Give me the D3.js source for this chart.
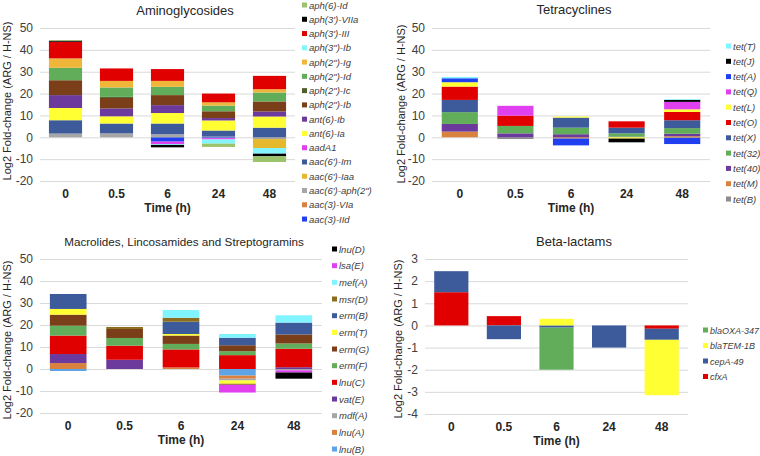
<!DOCTYPE html>
<html>
<head>
<meta charset="utf-8">
<script src="https://cdn.jsdelivr.net/npm/d3@7"></script>
<style>
  body { margin: 0; background: #fff; }
  svg { font-family: "Liberation Sans", Arial, sans-serif; }
  .grid line { stroke: #d9d9d9; }
  .axis text { fill: #404040; font-size: 12px; }
  .xaxis text { font-weight: bold; fill: #262626; }
  .title { fill: #262626; }
  .ytitle { font-size: 11px; fill: #262626; }
  .xtitle { font-size: 12px; font-weight: bold; fill: #262626; }
  .legend text { font-style: italic; fill: #404040; }
</style>
</head>
<body>
<div id="chart"></div>
<script>
const times = ["0", "0.5", "6", "24", "48"];
const ticksMain = [-20, -10, 0, 10, 20, 30, 40, 50];
const ticksBeta = [-4, -3, -2, -1, 0, 1, 2, 3];

// genes listed in legend order (top to bottom); values per time point
const aminoGenes = ["aph(6)-Id", "aph(3')-VIIa", "aph(3')-III", "aph(3\")-Ib", "aph(2\")-Ig",
  "aph(2\")-Id", "aph(2\")-Ic", "aph(2\")-Ib", "ant(6)-Ib", "ant(6)-Ia", "aadA1",
  "aac(6')-Im", "aac(6')-Iaa", "aac(6')-aph(2\")", "aac(3)-VIa", "aac(3)-IId"];
const aminoValues = [
  [0.3, 0, 0, -1.5, -2.6],
  [0.5, 0, -1.1, 0, -1.2],
  [7.6, 5.7, 5.4, 4.0, 6.1],
  [0, 0, -0.4, -1.9, -2.6],
  [4.3, 3.0, 2.7, 1.5, 1.5],
  [5.7, 4.3, 3.8, 2.6, 4.1],
  [0, 0.5, 0, 0, 0],
  [6.8, 4.8, 4.6, 3.1, 4.6],
  [5.9, 3.6, 3.6, 1.1, 2.3],
  [5.6, 3.3, 4.8, 4.6, 5.1],
  [0, 0, -1.1, -0.6, 0],
  [6.1, 4.5, 4.9, 2.8, 4.4],
  [0, 0, 0, 0, -4.1],
  [1.7, 1.8, 1.4, 0.3, -0.8],
  [0, 0, 0, 0, 0],
  [0, 0, -2.0, -0.4, 0]
];
const aminoColors = ["#9bc36b", "#000000", "#e00000", "#84f4ff", "#f0b63a", "#62ad5a", "#4e5f2c",
  "#7a3f18", "#6b3a9c", "#ffff33", "#e040f0", "#3d5b9b", "#e6b82e", "#a6a6a6", "#d9823f", "#1f3ff0"];

const tetGenes = ["tet(T)", "tet(J)", "tet(A)", "tet(Q)", "tet(L)", "tet(O)", "tet(X)",
  "tet(32)", "tet(40)", "tet(M)", "tet(B)"];
const tetValues = [
  [0.6, 0, 0, 0, 0.3],
  [0, 0, 0, -1.7, 0.9],
  [1.8, 0, -3.1, 0, -2.8],
  [0, 4.5, 0, 0, 3.4],
  [2.0, 0, 0.5, -0.6, 1.2],
  [6.1, 4.7, 0, 2.9, 3.8],
  [5.6, 0, 4.6, 2.6, 3.6],
  [5.4, 3.4, 3.0, 1.5, 2.6],
  [3.5, 1.8, 1.4, 0.3, 1.1],
  [2.6, 0, -0.6, 0, 0.5],
  [0, -0.8, 0, 0, -0.3]
];
const tetColors = ["#80f4ff", "#000000", "#1f3ff0", "#e040f0", "#ffff33", "#e00000", "#3d5b9b",
  "#62ad5a", "#6b3a9c", "#d9823f", "#8c8c8c"];

const mlsGenes = ["lnu(D)", "lsa(E)", "mef(A)", "msr(D)", "erm(B)", "erm(T)", "erm(G)",
  "erm(F)", "lnu(C)", "vat(E)", "mdf(A)", "lnu(A)", "lnu(B)"];
const mlsValues = [
  [0, 0, 0, 0, -2.8],
  [0, 0, 0, -3.5, -1.0],
  [0, 0, 3.5, 1.7, 3.3],
  [0, 0.9, 1.8, -0.5, 0],
  [6.8, 0, 5.6, 3.4, 5.4],
  [2.6, 0, 0.7, -1.5, 0],
  [5.0, 4.1, 3.8, 2.7, 4.1],
  [4.5, 3.5, 2.5, 1.8, 2.4],
  [8.4, 6.4, 8.2, 6.3, 8.4],
  [4.1, 4.2, 0, 0, 0.8],
  [0, 0, 0, -0.8, -0.6],
  [2.7, 0, 0.7, -1.4, 0],
  [-0.9, 0, 0, -3.0, 0]
];
const mlsColors = ["#000000", "#e040f0", "#80f4ff", "#8c6d1f", "#3d5b9b", "#ffff33", "#7a3f18",
  "#62ad5a", "#e00000", "#6b3a9c", "#a6a6a6", "#d9823f", "#5da3e6"];

const betaGenes = ["blaOXA-347", "blaTEM-1B", "cepA-49", "cfxA"];
const betaValues = [
  [0, 0, -1.9, 0, 0],
  [0, 0, 0.3, 0, -2.5],
  [0.95, -0.62, -0.1, -1.0, -0.5],
  [1.5, 0.42, 0, 0, -0.15]
];
const betaColors = ["#62ad5a", "#ffff33", "#3d5b9b", "#e00000"];

const svg = d3.select("#chart").append("svg")
    .attr("width", 760).attr("height", 456);

function drawPanel(p) {
    const x = d3.scaleBand().domain(times).range([p.x0, p.x1])
        .paddingInner(0.35).paddingOuter(0.175);
    const y = d3.scaleLinear().domain(p.domain).range([p.yBottom, p.yTop]);

    // gridlines + y labels (plain hyphen for minus, like the original)
    svg.append("g")
        .attr("class", "axis grid")
        .attr("transform", "translate(" + p.x0 + ",0)")
        .call(d3.axisLeft(y).tickValues(p.ticks).tickFormat(d => String(d))
            .tickSize(-(p.x1 - p.x0)).tickPadding(7))
        .call(g => g.select(".domain").remove());

    // stack: series bottom-up is the reverse of legend order
    const keys = p.genes.slice().reverse();
    const rows = times.map((t, i) => {
        const r = {time: t};
        p.genes.forEach((gname, j) => { r[gname] = p.values[j][i]; });
        return r;
    });
    const color = d3.scaleOrdinal().domain(p.genes).range(p.colors);
    const series = d3.stack().keys(keys).offset(d3.stackOffsetDiverging)(rows);

    svg.append("g").selectAll("g")
        .data(series)
        .join("g")
        .attr("fill", d => color(d.key))
        .selectAll("rect")
        .data(d => d)
        .join("rect")
        .attr("x", d => x(d.data.time))
        .attr("width", x.bandwidth())
        .attr("y", d => y(Math.max(d[0], d[1])))
        .attr("height", d => Math.abs(y(d[0]) - y(d[1])));

    // x labels
    svg.append("g")
        .attr("class", "axis xaxis")
        .attr("transform", "translate(0," + p.yBottom + ")")
        .call(d3.axisBottom(x).tickSize(0).tickPadding(8))
        .call(g => g.select(".domain").remove());

    svg.append("text")
        .attr("class", "xtitle")
        .attr("x", (p.x0 + p.x1) / 2)
        .attr("y", p.yBottom + 31)
        .attr("text-anchor", "middle")
        .text("Time (h)");

    svg.append("text")
        .attr("class", "title")
        .attr("x", p.titleX)
        .attr("y", p.titleY)
        .attr("text-anchor", "middle")
        .style("font-size", p.titleSize + "px")
        .text(p.title);

    svg.append("text")
        .attr("class", "ytitle")
        .attr("transform", "translate(" + p.yTitleX + "," + p.yTitleY + ") rotate(-90)")
        .attr("text-anchor", "middle")
        .text("Log2 Fold-change (ARG / H-NS)");

    // legend
    const lg = svg.append("g").attr("class", "legend");
    const items = lg.selectAll("g")
        .data(p.genes)
        .join("g")
        .attr("transform", (d, i) => "translate(" + p.legX + "," + (p.legY + i * p.legStep) + ")");
    items.append("rect")
        .attr("x", 0).attr("y", -2.5)
        .attr("width", 5).attr("height", 5)
        .attr("fill", d => color(d));
    items.append("text")
        .attr("x", 7).attr("y", 3.5)
        .style("font-size", p.legSize + "px")
        .text(d => d);
}

drawPanel({
    title: "Aminoglycosides", titleX: 185, titleY: 15, titleSize: 13,
    genes: aminoGenes, values: aminoValues, colors: aminoColors,
    x0: 40, x1: 295, yTop: 28, yBottom: 181, domain: [-20, 50], ticks: ticksMain,
    yTitleX: 11, yTitleY: 101,
    legX: 302, legY: 5, legStep: 14.27, legSize: 9.5
});
drawPanel({
    title: "Tetracyclines", titleX: 574, titleY: 14, titleSize: 13,
    genes: tetGenes, values: tetValues, colors: tetColors,
    x0: 432, x1: 710, yTop: 28, yBottom: 181, domain: [-20, 50], ticks: ticksMain,
    yTitleX: 405, yTitleY: 104,
    legX: 726, legY: 46, legStep: 15.3, legSize: 9.5
});
drawPanel({
    title: "Macrolides, Lincosamides and Streptogramins", titleX: 184, titleY: 246, titleSize: 11.7,
    genes: mlsGenes, values: mlsValues, colors: mlsColors,
    x0: 40, x1: 322, yTop: 259, yBottom: 413, domain: [-20, 50], ticks: ticksMain,
    yTitleX: 11, yTitleY: 340,
    legX: 332, legY: 249, legStep: 16.67, legSize: 9.5
});
drawPanel({
    title: "Beta-lactams", titleX: 574, titleY: 246, titleSize: 13,
    genes: betaGenes, values: betaValues, colors: betaColors,
    x0: 425, x1: 688, yTop: 259, yBottom: 414, domain: [-4, 3], ticks: ticksBeta,
    yTitleX: 402, yTitleY: 339,
    legX: 703, legY: 330, legStep: 15.5, legSize: 9
});
</script>
</body>
</html>
